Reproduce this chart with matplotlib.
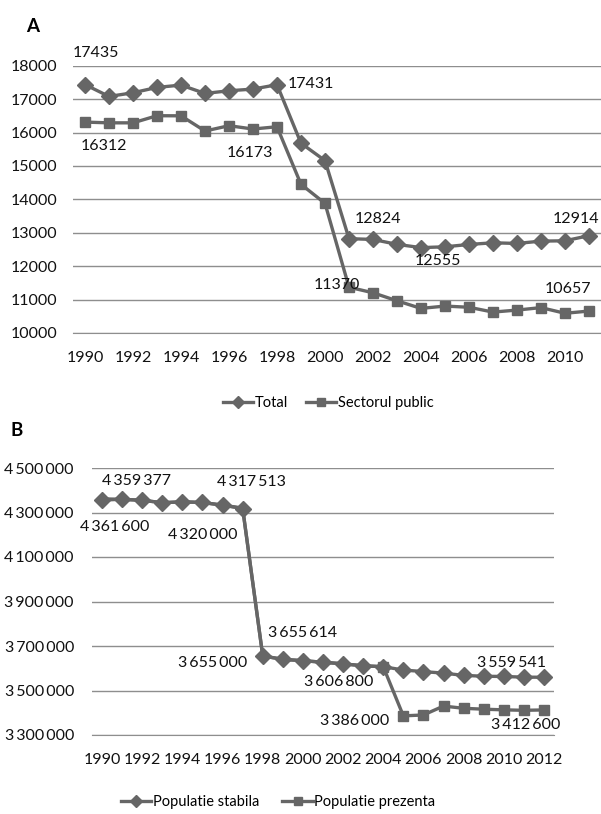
import numpy as np
import matplotlib
matplotlib.use("Agg")
import matplotlib.pyplot as plt

plt.rcParams['font.family'] = ['Lato', 'DejaVu Sans']

# Panel A data
years_a = list(range(1990, 2012))
total = [17435, 17080, 17190, 17350, 17420, 17170, 17250, 17300, 17431, 15680, 15160,
         12824, 12800, 12653, 12555, 12580, 12650, 12700, 12680, 12750, 12760, 12914]
sector_public = [16312, 16290, 16290, 16503, 16500, 16045, 16204, 16105, 16173, 14450, 13880,
                 11370, 11204, 10964, 10736, 10806, 10770, 10626, 10686, 10760, 10590, 10657]
labels_a = ["17435", "17431", "16312", "16173", "12824", "12555", "11370", "10657", "12914"]
labels_a_pos = [(1990.46, 18380), (1999.42, 17452), (1990.8, 15596), (1996.88, 15386),
                (2002.2, 13410), (2004.69, 12153), (2000.5, 11434), (2010.12, 11315),
                (2010.46, 13410)]

# Panel B data
years_b = list(range(1990, 2013))
pop_stabila = [4356000, 4359377, 4355000, 4344000, 4348000, 4345000, 4333000, 4317513,
               3655614, 3640000, 3634000, 3627000, 3620000, 3611000, 3607000, 3592000,
               3585000, 3578000, 3568000, 3564000, 3563000, 3560000, 3559541]
pop_prezenta = [4361600, 4359000, 4355000, 4344000, 4348000, 4345000, 4333000, 4320000,
                3655000, 3640000, 3634000, 3627000, 3620000, 3611000, 3606800, 3386000,
                3390000, 3430000, 3420000, 3416000, 3413000, 3411000, 3412600]
labels_b = ["4 359 377", "4 361 600", "4 317 513", "4 320 000", "3 655 614", "3 655 000",
            "3 606 800", "3 559 541", "3 386 000", "3 412 600"]
labels_b_pos = [(1991.74, 4441600), (1990.65, 4233500), (1997.42, 4438500), (1995.03, 4199000),
                (2000.0, 3757000), (1995.5, 3625000), (2001.8, 3540000), (2010.4, 3625000),
                (2002.57, 3364000), (2011.1, 3345000)]

col = '#666666'
grid_col = '#8e8e8e'
txt_col = '#111111'
fs = 11.5
fs_leg = 10.5

fig = plt.figure(figsize=(6.01, 8.14), dpi=100)

def style_axes(ax):
    for s in ['left', 'right', 'top']:
        ax.spines[s].set_visible(False)
    ax.spines['bottom'].set_color(grid_col)
    ax.grid(axis='y', color=grid_col, linewidth=1)
    ax.set_axisbelow(True)
    ax.tick_params(length=0, labelsize=fs, colors=txt_col)

def thin(s):
    return s.replace(' ', '\u2009')

# ---- A ----
ax1 = fig.add_axes([73/601, 1-333/814, 528/601, 267.3/814])
style_axes(ax1)
ax1.plot(years_a, total, color=col, lw=2.4, marker='D', ms=8.5, label='Total')
ax1.plot(years_a, sector_public, color=col, lw=2.4, marker='s', ms=7.5, label='Sectorul public')
ax1.set_xlim(1989.5, 2011.5)
ax1.set_ylim(10000, 18000)
ax1.set_yticks(np.arange(10000, 18001, 1000))
ax1.set_xticks(range(1990, 2011, 2))
ax1.tick_params(axis='x', pad=13)
ax1.tick_params(axis='y', pad=11)
for txt, (x, y) in zip(labels_a, labels_a_pos):
    ax1.text(x, y, txt, ha='center', va='center', fontsize=fs, color=txt_col)
ax1.legend(loc='center', bbox_to_anchor=(328/601, 1-403/814), bbox_transform=fig.transFigure,
           ncol=2, frameon=False, fontsize=fs_leg, handlelength=2.1, handletextpad=0.1,
           columnspacing=1.2, markerscale=0.75)
fig.text(33/601, 1-27/814, 'A', fontsize=13.5, fontweight='bold', ha='center', va='center')

# ---- B ----
ax2 = fig.add_axes([92/601, 1-735/814, 462/601, 267/814])
style_axes(ax2)
ax2.plot(years_b, pop_prezenta, color=col, lw=2.4, marker='s', ms=7.5,
         markevery=slice(14, None), label='Populatie prezenta', zorder=2)
ax2.plot(years_b, pop_stabila, color=col, lw=2.4, marker='D', ms=8.5,
         label='Populatie stabila', zorder=3)
ax2.set_xlim(1989.5, 2012.5)
ax2.set_ylim(3300000, 4500000)
yt = np.arange(3300000, 4500001, 200000)
ax2.set_yticks(yt)
ax2.set_yticklabels([thin('{:,}'.format(v).replace(',', ' ')) for v in yt])
ax2.set_xticks(range(1990, 2013, 2))
ax2.tick_params(axis='x', pad=13)
ax2.tick_params(axis='y', pad=13)
for txt, (x, y) in zip(labels_b, labels_b_pos):
    ax2.text(x, y, thin(txt), ha='center', va='center', fontsize=fs, color=txt_col)
h, l = ax2.get_legend_handles_labels()
ax2.legend(h[::-1], l[::-1], loc='center', bbox_to_anchor=(278/601, 1-802/814),
           bbox_transform=fig.transFigure, ncol=2, frameon=False, fontsize=fs_leg,
           handlelength=2.1, handletextpad=0.1, columnspacing=1.6, markerscale=0.75)
fig.text(17/601, 1-430/814, 'B', fontsize=13.5, fontweight='bold', ha='center', va='center')

fig.savefig('out.png', dpi=100)
